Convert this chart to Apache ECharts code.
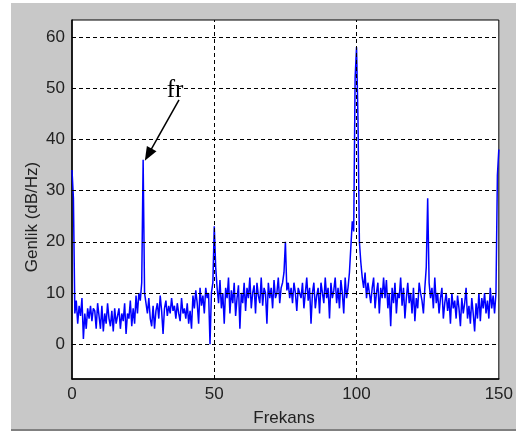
<!DOCTYPE html>
<html>
<head>
<meta charset="utf-8">
<script src="https://cdn.jsdelivr.net/npm/echarts@6/dist/echarts.min.js"></script>
<style>
  html, body { margin: 0; padding: 0; background: #fff; }
  #container { width: 516px; height: 431px; }
</style>
</head>
<body>
<div id="container"></div>
<script>
// spectrum, 0.5 Hz step from 0 to 150
var step = 0.5;
var genlik = [
  34, 28.5, 6, 8.5, 4, 7.5, 5.5, 9, 1, 6, 3, 7, 5, 7.5, 4.5, 7, 6.5, 3, 8, 5.5,
  3, 7.5, 2.5, 6, 4, 8, 5, 3.5, 6.5, 2.5, 7, 4, 5.5, 7, 3, 6, 4.5, 8, 2, 6,
  5, 8.5, 3.5, 7, 4, 9.5, 6, 10, 8.5, 12, 36, 10, 8, 6, 9, 5, 3.5, 7.5, 3, 6.5,
  8, 5, 9.5, 6.5, 2, 7, 8.5, 5.5, 7.5, 6, 9, 6.5, 7.5, 5, 8, 6, 4.5, 9, 6, 7,
  5, 8, 4, 6.5, 3, 9.5, 7, 10.5, 8, 4, 11, 7.5, 9.5, 6, 11, 9, 10, 0, 10, 12,
  23, 15, 11, 8, 12.5, 7, 10, 4, 11, 9, 13, 6, 10.5, 8, 12, 5.5, 9, 11.5, 3, 10,
  8, 12, 6.5, 11, 9, 13, 7, 10, 11.5, 6, 12, 9.5, 8, 13, 7.5, 11, 10, 4, 12, 9,
  11, 7, 12.5, 9, 10, 13, 8, 11, 12, 14, 20, 10.5, 12, 9, 11, 8, 12, 10, 6.5, 11,
  11, 9, 12, 7, 10, 13, 8.5, 11, 4, 10, 12, 7, 9.5, 11, 6, 12, 10, 8, 13, 9,
  11, 5, 12, 9, 10.5, 13, 8, 11, 7, 12.5, 10, 6, 13, 9, 11, 14, 19, 24, 22, 52,
  58, 44, 20, 16, 13, 11, 14, 9, 12, 10, 8, 11, 13, 7, 10, 12, 6, 11, 9, 13,
  9, 12.5, 7, 10, 3.5, 11, 8, 12, 6, 10, 9, 13, 7.5, 11, 5, 9, 12, 8, 10, 6,
  11, 4.5, 9, 7, 12, 10, 8.5, 6, 11, 15, 28.5, 12, 9, 11, 7, 13, 8, 10, 6, 9,
  11, 5, 8, 10, 6.5, 9, 4, 10, 7, 8.5, 5, 9.5, 7, 3.5, 9, 6, 8, 11, 5, 7.5,
  4, 9, 6, 2.5, 8, 5, 10, 4.5, 9, 7, 10, 6, 8.5, 5, 11, 7, 9.5, 6, 10, 33,
  38
];
var yTicks = [0, 10, 20, 30, 40, 50, 60];
var xGrid = [50, 100];
// annotation: label position and arrow from/to (data coords)
var frLabel = [36.2, 49.5];
var frArrow = [[37.6, 47.7], [26.8, 37]];

var points = [];
for (var i = 0; i < genlik.length; i++) {
  points.push([i * step, genlik[i]]);
}

var gridLines = [];
for (var j = 0; j < yTicks.length; j++) {
  gridLines.push({ yAxis: yTicks[j] });
}
for (var k = 0; k < xGrid.length; k++) {
  gridLines.push({ xAxis: xGrid[k] });
}
gridLines.push([
  { coord: frArrow[0], symbol: 'none', lineStyle: { type: 'solid', width: 1.5 } },
  { coord: frArrow[1], symbol: 'triangle', symbolSize: [11, 14] }
]);

var myChart = echarts.init(document.getElementById('container'));
var option = {
  animation: false,
  backgroundColor: '#fff',
  graphic: [
    { type: 'rect', left: 11, top: 3, z: -10, shape: { width: 505, height: 427 }, style: { fill: '#c8c8c8' } },
    { type: 'rect', left: 11, top: 429, z: -10, shape: { width: 505, height: 2 }, style: { fill: '#808080' } },
    { type: 'text', x: 32, y: 217, rotation: Math.PI / 2,
      style: { text: 'Genlik (dB/Hz)', font: '17px "Liberation Sans", Arial', fill: '#222', align: 'center', verticalAlign: 'middle' } },
    { type: 'text', x: 284, y: 418,
      style: { text: 'Frekans', font: '17px "Liberation Sans", Arial', fill: '#222', align: 'center', verticalAlign: 'middle' } }
  ],
  grid: {
    left: 72, top: 20, right: 17, bottom: 52,
    show: true,
    backgroundColor: '#fff',
    borderColor: '#000',
    borderWidth: 1
  },
  xAxis: {
    type: 'value',
    min: 0, max: 150, interval: 50,
    axisLine: { onZero: false, lineStyle: { color: '#000', width: 1.5 } },
    axisTick: { show: false },
    splitLine: { show: false },
    axisLabel: { color: '#222', fontSize: 17, fontFamily: 'Liberation Sans', margin: 7 }
  },
  yAxis: {
    type: 'value',
    min: -6.8, max: 63.3,
    axisLine: { show: true, onZero: false, lineStyle: { color: '#000', width: 1.5 } },
    axisTick: { show: false },
    splitLine: { show: false },
    axisLabel: { color: '#222', fontSize: 17, fontFamily: 'Liberation Sans', margin: 7, customValues: yTicks }
  },
  series: [{
    type: 'line',
    data: points,
    showSymbol: false,
    lineStyle: { color: '#0000ff', width: 1.5 },
    markLine: {
      silent: true,
      symbol: ['none', 'none'],
      label: { show: false },
      lineStyle: { color: '#000', type: [4, 3], width: 1 },
      data: gridLines
    },
    markPoint: {
      silent: true,
      symbol: 'rect',
      symbolSize: 1,
      itemStyle: { color: 'rgba(0,0,0,0)' },
      label: { show: true, position: 'inside', formatter: 'fr', color: '#000', fontSize: 25, fontFamily: 'Liberation Serif' },
      data: [{ coord: frLabel }]
    }
  }]
};
myChart.setOption(option);
</script>
</body>
</html>
